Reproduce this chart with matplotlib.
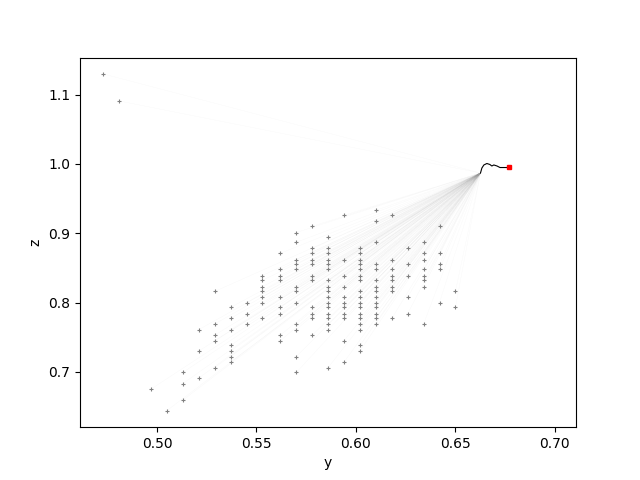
import numpy as np
import matplotlib.pyplot as plt
from matplotlib.collections import LineCollection

# starting points sit on a grid: one y value per column, z values listed per column
col_y = [0.473, 0.481, 0.497, 0.505, 0.513, 0.521, 0.529, 0.537, 0.545, 0.553, 0.562,
         0.570, 0.578, 0.586, 0.594, 0.602, 0.610, 0.618, 0.626, 0.634, 0.642, 0.650]
col_z = [
    [1.130],
    [1.091],
    [0.675],
    [0.644],
    [0.699, 0.683, 0.659],
    [0.761, 0.730, 0.691],
    [0.816, 0.769, 0.753, 0.745, 0.706],
    [0.793, 0.777, 0.761, 0.738, 0.730, 0.722, 0.714],
    [0.800, 0.784, 0.769],
    [0.839, 0.832, 0.823, 0.816, 0.808, 0.800, 0.777],
    [0.871, 0.848, 0.839, 0.832, 0.808, 0.793, 0.784, 0.753, 0.745],
    [0.901, 0.887, 0.862, 0.855, 0.848, 0.823, 0.816, 0.800, 0.769, 0.761, 0.722, 0.699],
    [0.910, 0.878, 0.871, 0.862, 0.855, 0.839, 0.832, 0.793, 0.784, 0.777, 0.753],
    [0.894, 0.878, 0.871, 0.862, 0.855, 0.848, 0.832, 0.823, 0.816, 0.808, 0.800, 0.793,
     0.784, 0.777, 0.769, 0.761, 0.706],
    [0.926, 0.862, 0.839, 0.823, 0.808, 0.800, 0.793, 0.784, 0.777, 0.745, 0.714],
    [0.878, 0.871, 0.862, 0.855, 0.848, 0.839, 0.832, 0.816, 0.808, 0.800, 0.793, 0.784,
     0.777, 0.769, 0.761, 0.738, 0.730],
    [0.933, 0.917, 0.887, 0.855, 0.848, 0.832, 0.823, 0.816, 0.808, 0.800, 0.793, 0.784,
     0.777, 0.769],
    [0.926, 0.862, 0.848, 0.839, 0.832, 0.823, 0.816, 0.777],
    [0.878, 0.855, 0.839, 0.808, 0.784],
    [0.887, 0.871, 0.862, 0.848, 0.839, 0.832, 0.823, 0.769],
    [0.910, 0.871, 0.855, 0.848, 0.800],
    [0.816, 0.793],
]

# the black path near the end
path_y = [0.6626, 0.6633, 0.6643, 0.6658, 0.6673, 0.6683, 0.6693, 0.6709, 0.6724, 0.6769]
path_z = [0.9870, 0.9942, 0.9986, 1.0007, 0.9993, 0.9971, 0.9986, 0.9971, 0.9949, 0.9949]
final_y, final_z = 0.677, 0.995

start_y = np.concatenate([np.full(len(zs), y) for y, zs in zip(col_y, col_z)])
start_z = np.concatenate([np.array(zs) for zs in col_z])

fig, ax = plt.subplots(figsize=(6.4, 4.8), dpi=100)

# faint trajectories from each start toward the end path
segs = [[(y0, z0), (path_y[0], path_z[0])] for y0, z0 in zip(start_y, start_z)]
ax.add_collection(LineCollection(segs, colors='0.6', linewidths=0.25, alpha=0.08))

ax.plot(start_y, start_z, '+', color='0.5', markersize=2.6, markeredgewidth=0.8)
ax.plot(path_y, path_z, color='black', linewidth=0.8)
ax.plot(final_y, final_z, 's', color='red', markersize=2.5)

ax.set_xlim(0.4613, 0.7106)
ax.set_ylim(0.620, 1.1536)
ax.set_xlabel('y')
ax.set_ylabel('z')

fig.savefig('out.png')
